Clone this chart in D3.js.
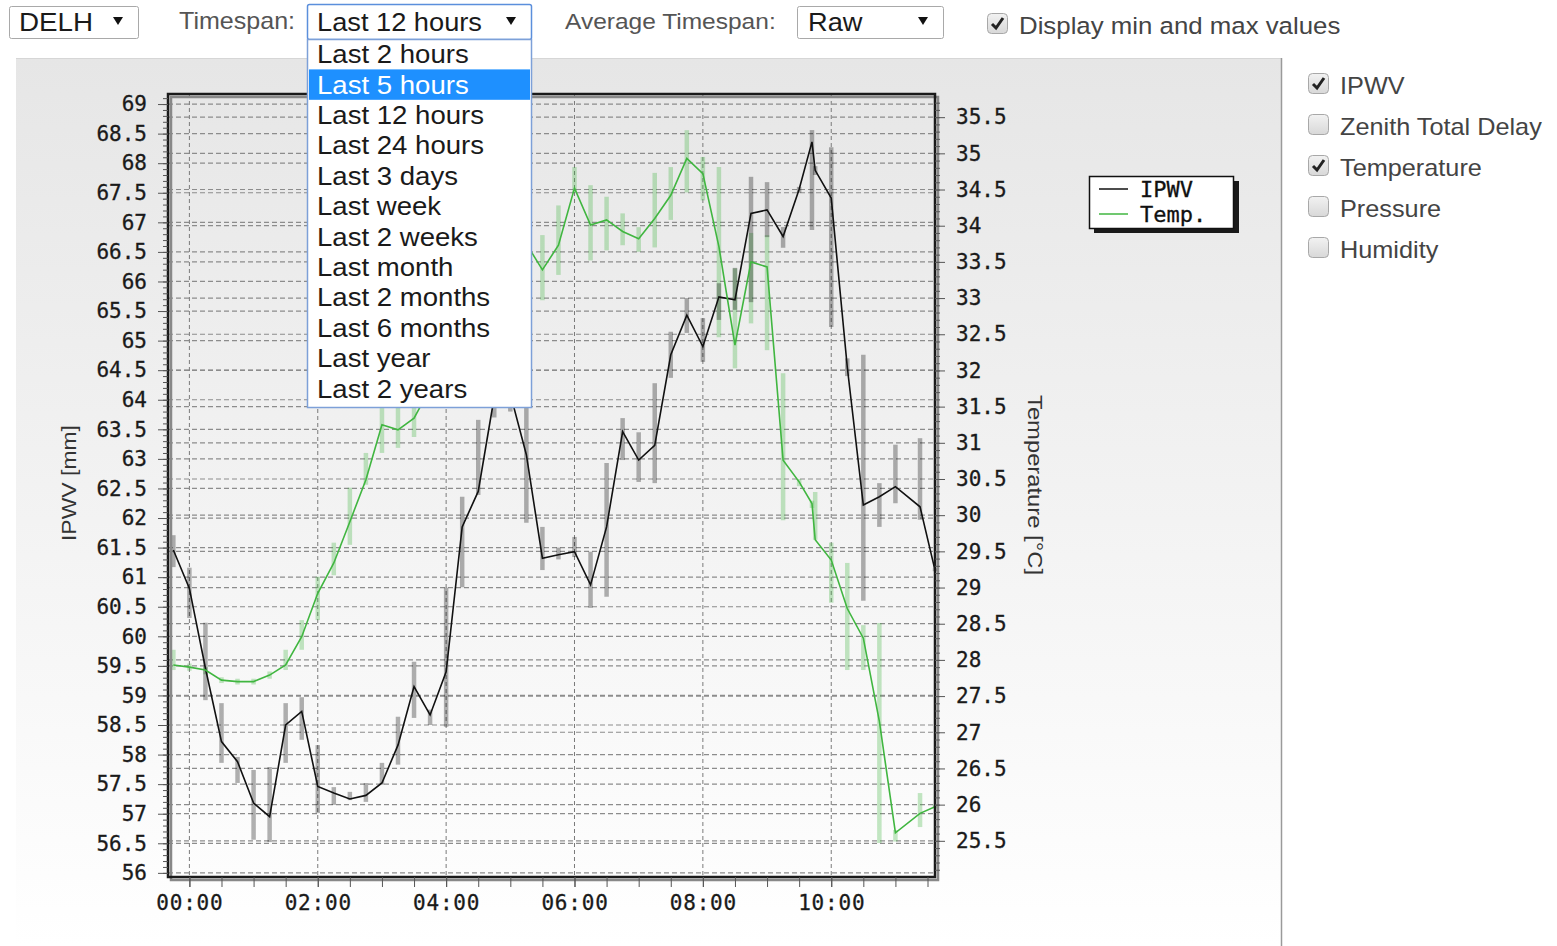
<!DOCTYPE html>
<html>
<head>
<meta charset="utf-8">
<script src="https://cdn.jsdelivr.net/npm/d3@7"></script>
<style>
  body { margin: 0; background: #fff; overflow: hidden; }
  svg { display: block; }
</style>
</head>
<body>
<svg id="chart" width="1557" height="946"></svg>
<script>
// ---- data ----
const stations = ["DELH"];
const timespanOptions = ["Last 2 hours", "Last 5 hours", "Last 12 hours", "Last 24 hours",
  "Last 3 days", "Last week", "Last 2 weeks", "Last month", "Last 2 months",
  "Last 6 months", "Last year", "Last 2 years"];
const averageOptions = ["Raw"];
const parameters = ["IPWV", "Zenith Total Delay", "Temperature", "Pressure", "Humidity"];
const parameterChecked = [true, false, true, false, false];

const times = ["23:45", "00:00", "00:15", "00:30", "00:45", "01:00", "01:15", "01:30", "01:45",
  "02:00", "02:15", "02:30", "02:45", "03:00", "03:15", "03:30", "03:45", "04:00", "04:15",
  "04:30", "04:45", "05:00", "05:15", "05:30", "05:45", "06:00", "06:15", "06:30", "06:45",
  "07:00", "07:15", "07:30", "07:45", "08:00", "08:15", "08:30", "08:45", "09:00", "09:15",
  "09:30", "09:42", "09:45", "10:00", "10:15", "10:30", "10:45", "11:00", "11:23", "11:37"];

const ipwv = [61.46, 60.81, 59.46, 58.22, 57.88, 57.18, 56.95, 58.5, 58.73, 57.46, 57.35, 57.25,
  57.31, 57.52, 58.16, 59.15, 58.67, 59.4, 61.85, 62.45, 64.05, 64.1, 63.07, 61.32, 61.38,
  61.43, 60.87, 61.85, 63.46, 62.98, 63.23, 64.76, 65.43, 64.9, 65.74, 65.69, 67.15, 67.21,
  66.76, 67.56, 68.36, 67.88, 67.41, 64.55, 62.22, 62.36, 62.53, 62.19, 61.12];
const ipwvMin = [61.17, 60.31, 58.92, 57.86, 57.52, 56.56, 56.52, 57.86, 58.25, 57.01, 57.15, 57.23,
  57.2, 57.49, 57.83, 58.62, 58.5, 58.47, 60.83, 62.39, 63.7, 63.8, 61.92, 61.12, 61.3,
  61.34, 60.48, 60.67, 62.98, 62.61, 62.59, 64.37, 65.13, 64.64, 65.35, 65.52, 65.65, 66.75,
  66.57, 67.5, 66.87, 67.8, 65.23, 64.4, 60.6, 61.85, 62.25, 61.97, 61.1];
const ipwvMax = [61.71, 61.16, 60.23, 58.87, 57.96, 57.74, 57.79, 58.87, 58.97, 58.16, 57.45, 57.37,
  57.52, 57.86, 58.64, 59.57, 58.76, 60.82, 62.36, 63.66, 64.4, 64.3, 63.94, 61.85, 61.5,
  61.68, 61.43, 62.93, 63.69, 63.45, 64.28, 65.15, 65.72, 65.38, 65.97, 66.23, 67.77, 67.68,
  66.92, 67.6, 68.56, 67.95, 68.27, 64.7, 64.76, 62.59, 63.24, 63.35, 61.15];

const temp = [27.93, 27.9, 27.86, 27.72, 27.7, 27.7, 27.79, 27.93, 28.32, 28.92, 29.34, 29.91,
  30.49, 31.25, 31.18, 31.34, 31.75, 32.2, 32.6, 33.0, 33.3, 33.55, 33.75, 33.39, 33.73,
  34.52, 34.01, 34.08, 33.92, 33.82, 34.1, 34.42, 34.93, 34.72, 33.71, 32.35, 33.5, 33.43,
  30.76, 30.46, 30.16, 29.66, 29.38, 28.71, 28.3, 27.15, 25.61, 25.88, 25.97];
const tempMin = [27.86, 27.85, 27.8, 27.68, 27.66, 27.66, 27.74, 27.86, 28.14, 28.55, 29.17, 29.59,
  30.42, 30.86, 30.93, 31.08, 31.5, 31.95, 32.35, 32.75, 33.05, 33.3, 33.5, 32.97, 33.32,
  34.45, 33.52, 33.66, 33.73, 33.64, 33.7, 34.08, 34.46, 34.35, 32.46, 32.03, 32.65, 32.28,
  29.93, 30.4, 30.1, 29.66, 28.79, 27.86, 27.86, 25.47, 25.49, 25.69, 25.95];
const tempMax = [28.14, 27.95, 27.9, 27.76, 27.74, 27.74, 27.84, 28.14, 28.55, 29.15, 29.62, 30.38,
  30.86, 31.48, 31.55, 31.55, 32.0, 32.45, 32.85, 33.25, 33.55, 33.8, 34.0, 33.87, 34.28,
  34.81, 34.56, 34.4, 34.17, 33.98, 34.73, 34.81, 35.32, 34.95, 34.81, 33.41, 33.9, 33.87,
  31.96, 30.5, 30.2, 30.32, 29.62, 29.34, 28.48, 28.51, 25.65, 26.16, 26.0];

const ipwvTicks = [56, 56.5, 57, 57.5, 58, 58.5, 59, 59.5, 60, 60.5, 61, 61.5, 62, 62.5, 63,
  63.5, 64, 64.5, 65, 65.5, 66, 66.5, 67, 67.5, 68, 68.5, 69];
const tempTicks = [25.5, 26, 26.5, 27, 27.5, 28, 28.5, 29, 29.5, 30, 30.5, 31, 31.5, 32, 32.5,
  33, 33.5, 34, 34.5, 35, 35.5];
const timeTicks = ["00:00", "02:00", "04:00", "06:00", "08:00", "10:00"];

// ---- helpers ----
const parseTime = d3.timeParse('%Y-%m-%d %H:%M');
// times after noon belong to the previous day
const toDate = (t) => parseTime((+t.slice(0, 2) >= 12 ? '2016-06-09 ' : '2016-06-10 ') + t);
const dates = times.map(toDate);

const uiFont = 'Liberation Sans, Arial, sans-serif';
const monoFont = 'DejaVu Sans Mono, monospace';

const svg = d3.select('#chart');

function uiText(g, txt, xPos, yPos, size, fill) {
  return g.append('text')
    .attr('transform', `translate(${xPos},${yPos}) scale(1.09,1)`)
    .attr('font-family', uiFont)
    .attr('font-size', size)
    .attr('fill', fill)
    .text(txt);
}

function arrow(g, cx, cy) {
  g.append('path')
    .attr('d', `M${cx - 5},${cy - 4}L${cx + 5},${cy - 4}L${cx},${cy + 4}Z`)
    .attr('fill', '#111');
}

function checkbox(g, bx, by, checked) {
  g.append('rect')
    .attr('x', bx + 0.5).attr('y', by + 0.5)
    .attr('width', 20).attr('height', 20).attr('rx', 4)
    .attr('fill', 'url(#cbGrad)')
    .attr('stroke', '#a8a8a8');
  if (checked) {
    g.append('path')
      .attr('d', `M${bx + 5},${by + 11}L${bx + 9},${by + 15}L${bx + 16},${by + 5}`)
      .attr('fill', 'none')
      .attr('stroke', '#222')
      .attr('stroke-width', 3);
  }
}

// ---- defs ----
const defs = svg.append('defs');
const bgGrad = defs.append('linearGradient').attr('id', 'bgGrad')
  .attr('x1', 0).attr('y1', 0).attr('x2', 0).attr('y2', 1);
bgGrad.append('stop').attr('offset', '0%').attr('stop-color', '#e6e6e6');
bgGrad.append('stop').attr('offset', '100%').attr('stop-color', '#ffffff');

const cbGrad = defs.append('linearGradient').attr('id', 'cbGrad')
  .attr('x1', 0).attr('y1', 0).attr('x2', 0).attr('y2', 1);
cbGrad.append('stop').attr('offset', '0%').attr('stop-color', '#f2f2f2');
cbGrad.append('stop').attr('offset', '100%').attr('stop-color', '#d8d8d8');

// ---- chart panel background ----
svg.append('rect')
  .attr('x', 16).attr('y', 58).attr('width', 1265).attr('height', 888)
  .attr('fill', 'url(#bgGrad)');
svg.append('line')
  .attr('x1', 16).attr('x2', 1281).attr('y1', 58.5).attr('y2', 58.5)
  .attr('stroke', '#d6d6d6');
svg.append('line')
  .attr('x1', 1281.5).attr('x2', 1281.5).attr('y1', 58).attr('y2', 946)
  .attr('stroke', '#9a9a9a').attr('stroke-width', 1.5);

// ---- scales ----
const plot = { left: 168, right: 935, top: 94, bottom: 877 };

const x = d3.scaleTime()
  .domain([toDate('23:40'), toDate('11:37')])
  .range([plot.left, plot.right]);
const yL = d3.scaleLinear().domain([55.93, 69.17]).range([plot.bottom, plot.top]);
const yR = d3.scaleLinear().domain([25.0, 35.82]).range([plot.bottom, plot.top]);

// ---- grid ----
const grid = svg.append('g')
  .attr('stroke', '#8c8c8c')
  .attr('stroke-width', 1.2)
  .attr('stroke-dasharray', '5,3');

grid.selectAll('line.gl')
  .data(ipwvTicks)
  .join('line')
  .attr('class', 'gl')
  .attr('x1', plot.left).attr('x2', plot.right)
  .attr('y1', (d) => yL(d)).attr('y2', (d) => yL(d));

grid.selectAll('line.gr')
  .data(tempTicks)
  .join('line')
  .attr('class', 'gr')
  .attr('x1', plot.left).attr('x2', plot.right)
  .attr('y1', (d) => yR(d)).attr('y2', (d) => yR(d));

grid.selectAll('line.gx')
  .data(timeTicks.map(toDate))
  .join('line')
  .attr('class', 'gx')
  .attr('stroke', '#7a7a7a')
  .attr('stroke-width', 1)
  .attr('stroke-dasharray', '4,3')
  .attr('x1', (d) => x(d)).attr('x2', (d) => x(d))
  .attr('y1', plot.top).attr('y2', plot.bottom);

// ---- min / max bars ----
const idx = d3.range(times.length);

svg.append('g')
  .selectAll('line')
  .data(idx)
  .join('line')
  .attr('x1', (i) => x(dates[i])).attr('x2', (i) => x(dates[i]))
  .attr('y1', (i) => yR(tempMin[i])).attr('y2', (i) => yR(tempMax[i]))
  .attr('stroke', 'rgba(60,180,60,0.3)')
  .attr('stroke-width', 4.5);

svg.append('g')
  .selectAll('line')
  .data(idx)
  .join('line')
  .attr('x1', (i) => x(dates[i])).attr('x2', (i) => x(dates[i]))
  .attr('y1', (i) => yL(ipwvMin[i])).attr('y2', (i) => yL(ipwvMax[i]))
  .attr('stroke', 'rgba(0,0,0,0.3)')
  .attr('stroke-width', 4.5);

// ---- series lines ----
const ipwvLine = d3.line().x((i) => x(dates[i])).y((i) => yL(ipwv[i]));
const tempLine = d3.line().x((i) => x(dates[i])).y((i) => yR(temp[i]));

svg.append('path')
  .attr('d', ipwvLine(idx))
  .attr('fill', 'none')
  .attr('stroke', '#111')
  .attr('stroke-width', 1.6);

svg.append('path')
  .attr('d', tempLine(idx))
  .attr('fill', 'none')
  .attr('stroke', '#40b640')
  .attr('stroke-width', 1.6);

// ---- frame with shadow ----
svg.append('rect')
  .attr('x', plot.left + 3).attr('y', plot.top + 3)
  .attr('width', plot.right - plot.left).attr('height', plot.bottom - plot.top)
  .attr('fill', 'none').attr('stroke', '#888').attr('stroke-width', 2.5);
svg.append('rect')
  .attr('x', plot.left).attr('y', plot.top)
  .attr('width', plot.right - plot.left).attr('height', plot.bottom - plot.top)
  .attr('fill', 'none').attr('stroke', '#1a1a1a').attr('stroke-width', 2.5);

// ---- axes ----
function styleAxis(g) {
  g.select('.domain').remove();
  g.selectAll('.tick line').attr('stroke', '#555');
  g.selectAll('.tick text')
    .attr('font-family', monoFont)
    .attr('font-size', 21)
    .attr('fill', '#1a1a1a')
    .attr('stroke', '#1a1a1a')
    .attr('stroke-width', 0.3);
}

const minorL = d3.range(56, 69.15, 0.1);
const minorR = d3.range(25.1, 35.8, 0.1);
const minorX = d3.timeMinute.every(30).range(toDate('23:40'), toDate('11:38'));

svg.append('g')
  .attr('transform', `translate(${plot.left},0)`)
  .call(d3.axisLeft(yL).tickValues(minorL).tickFormat('').tickSize(5))
  .call(styleAxis);
svg.append('g')
  .attr('transform', `translate(${plot.left},0)`)
  .call(d3.axisLeft(yL).tickValues(ipwvTicks).tickFormat(d3.format('')).tickSize(10).tickPadding(11))
  .call(styleAxis);

svg.append('g')
  .attr('transform', `translate(${plot.right},0)`)
  .call(d3.axisRight(yR).tickValues(minorR).tickFormat('').tickSize(5))
  .call(styleAxis);
svg.append('g')
  .attr('transform', `translate(${plot.right},0)`)
  .call(d3.axisRight(yR).tickValues(tempTicks).tickFormat(d3.format('')).tickSize(10).tickPadding(11))
  .call(styleAxis);

svg.append('g')
  .attr('transform', `translate(0,${plot.bottom})`)
  .call(d3.axisBottom(x).tickValues(minorX).tickFormat('').tickSize(10))
  .call(styleAxis);
svg.append('g')
  .attr('transform', `translate(0,${plot.bottom})`)
  .call(d3.axisBottom(x).tickValues(timeTicks.map(toDate)).tickFormat(d3.timeFormat('%H:%M')).tickSize(10).tickPadding(8))
  .call(styleAxis)
  .call((g) => g.selectAll('.tick text').attr('letter-spacing', 0.8));

// axis titles
svg.append('text')
  .attr('transform', 'translate(68,483) rotate(-90)')
  .attr('text-anchor', 'middle')
  .attr('dominant-baseline', 'central')
  .attr('font-family', uiFont)
  .attr('font-size', 21)
  .attr('fill', '#333')
  .attr('textLength', 116)
  .attr('lengthAdjust', 'spacingAndGlyphs')
  .text('IPWV [mm]');

svg.append('text')
  .attr('transform', 'translate(1035,485) rotate(90)')
  .attr('text-anchor', 'middle')
  .attr('dominant-baseline', 'central')
  .attr('font-family', uiFont)
  .attr('font-size', 21)
  .attr('fill', '#333')
  .attr('textLength', 180)
  .attr('lengthAdjust', 'spacingAndGlyphs')
  .text('Temperature [°C]');

// ---- legend ----
const legend = svg.append('g');
legend.append('rect')
  .attr('x', 1094).attr('y', 181).attr('width', 145).attr('height', 52)
  .attr('fill', '#1a1a1a');
legend.append('rect')
  .attr('x', 1089.5).attr('y', 176.5).attr('width', 144).attr('height', 52)
  .attr('fill', '#fff').attr('stroke', '#111').attr('stroke-width', 1.5);

const legendItems = [
  { label: 'IPWV', color: '#111' },
  { label: 'Temp.', color: '#40b640' },
];
legendItems.forEach((d, i) => {
  const ly = 189 + i * 25;
  legend.append('line')
    .attr('x1', 1099).attr('x2', 1128).attr('y1', ly).attr('y2', ly)
    .attr('stroke', d.color).attr('stroke-width', 1.5);
  legend.append('text')
    .attr('x', 1140).attr('y', ly)
    .attr('dominant-baseline', 'central')
    .attr('font-family', monoFont)
    .attr('font-size', 22)
    .attr('fill', '#111')
    .attr('stroke', '#111')
    .attr('stroke-width', 0.3)
    .text(d.label);
});

// ---- parameter check list (right panel) ----
const panel = svg.append('g');
parameters.forEach((p, i) => {
  const cy = 86 + i * 41;
  checkbox(panel, 1308, cy - 13, parameterChecked[i]);
  uiText(panel, p, 1340, cy + 8, 23.2, '#444');
});

// ---- top controls ----
const controls = svg.append('g');

controls.append('rect')
  .attr('x', 9.5).attr('y', 6.5).attr('width', 129).attr('height', 32).attr('rx', 2)
  .attr('fill', '#fff').attr('stroke', '#a9a9a9');
uiText(controls, stations[0], 19, 31, 25.5, '#1a1a1a');
arrow(controls, 118, 21);

uiText(controls, 'Timespan:', 179, 29, 23, '#555');
controls.append('rect')
  .attr('x', 307.5).attr('y', 4.5).attr('width', 224).attr('height', 35).attr('rx', 2)
  .attr('fill', '#fff').attr('stroke', '#5b8fdc').attr('stroke-width', 1.5);
uiText(controls, timespanOptions[2], 317, 31, 25, '#1a1a1a');
arrow(controls, 511, 21);

uiText(controls, 'Average Timespan:', 565, 29, 22.5, '#555');
controls.append('rect')
  .attr('x', 797.5).attr('y', 6.5).attr('width', 146).attr('height', 32).attr('rx', 2)
  .attr('fill', '#fff').attr('stroke', '#a9a9a9');
uiText(controls, averageOptions[0], 808, 31, 25, '#1a1a1a');
arrow(controls, 923, 21);

checkbox(controls, 987, 13, true);
uiText(controls, 'Display min and max values', 1019, 34, 23.7, '#444');

// ---- open dropdown list ----
const drop = svg.append('g');
const itemH = 30.4;
drop.append('rect')
  .attr('x', 307.5).attr('y', 39.5).attr('width', 224).attr('height', 368)
  .attr('fill', '#fff').attr('stroke', '#7da0d8').attr('stroke-width', 1.5);
drop.append('rect')
  .attr('x', 309).attr('y', 39 + itemH).attr('width', 221).attr('height', itemH)
  .attr('fill', '#1e90ff');
timespanOptions.forEach((t, i) => {
  uiText(drop, t, 317, 39 + i * itemH + itemH / 2 + 9, 25.3, i === 1 ? '#fff' : '#1a1a1a');
});
</script>
</body>
</html>
